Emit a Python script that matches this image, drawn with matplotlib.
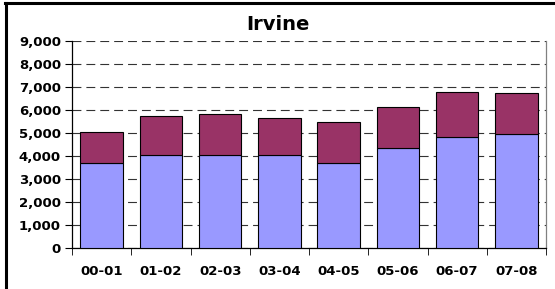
import matplotlib
matplotlib.use("Agg")
import matplotlib.pyplot as plt
from matplotlib.lines import Line2D
from matplotlib.ticker import FuncFormatter, MultipleLocator

years = ["00-01", "01-02", "02-03", "03-04", "04-05", "05-06", "06-07", "07-08"]
lower = [3680, 4060, 4030, 4030, 3710, 4350, 4840, 4940]
totals = [5040, 5750, 5810, 5640, 5460, 6150, 6780, 6730]
upper = [t - b for t, b in zip(totals, lower)]

plt.rcParams["font.family"] = ["DejaVu Sans"]

fig = plt.figure(figsize=(5.55, 2.89), dpi=100)
ax = fig.add_axes([72 / 555, 41 / 289, (546 - 72) / 555, (248 - 41) / 289])

x = range(len(years))
ax.bar(x, lower, width=0.72, color="#9999FF", edgecolor="black", linewidth=0.8, zorder=3)
ax.bar(x, upper, bottom=lower, width=0.72, color="#993366", edgecolor="black",
       linewidth=0.8, zorder=3)

ax.set_xlim(-0.5, len(years) - 0.5)
ax.set_ylim(0, 9000)
ax.yaxis.set_major_locator(MultipleLocator(1000))
ax.yaxis.set_major_formatter(FuncFormatter(lambda v, _: f"{int(v):,}"))
ax.yaxis.grid(True, color="#333333", linestyle=(0, (8, 4.5)), linewidth=0.8, zorder=0)

ax.set_xticks(list(x))
ax.set_xticklabels(years)
ax.set_xticks([i + 0.5 for i in range(-1, len(years))], minor=True)
ax.tick_params(axis="x", which="major", length=0, pad=12)
ax.tick_params(axis="x", which="minor", length=5, direction="out", color="black")
ax.tick_params(axis="y", length=5, direction="out", color="black", pad=3)
for lab in ax.get_xticklabels() + ax.get_yticklabels():
    lab.set_fontweight("bold")
    lab.set_fontsize(9.5)

ax.spines["left"].set_color("black")
ax.spines["bottom"].set_color("black")
ax.spines["right"].set_color("gray")
ax.spines["top"].set_visible(False)  # the 9,000 gridline is the dashed top edge
for s in ax.spines.values():
    s.set_linewidth(0.9)

# title is centred on the whole chart, not on the plot area
fig.text(277.5 / 555, 1 - 24 / 289, "Irvine", fontsize=14, fontweight="bold",
         ha="center", va="center")

# frame of the original chart (cropped on right and bottom)
fig.add_artist(Line2D([6 / 555, 6 / 555], [0, 1 - 3 / 289], color="black", linewidth=2.2))
fig.add_artist(Line2D([5 / 555, 1], [1 - 3 / 289, 1 - 3 / 289], color="black", linewidth=2.2))

fig.savefig("out.png", dpi=100)
